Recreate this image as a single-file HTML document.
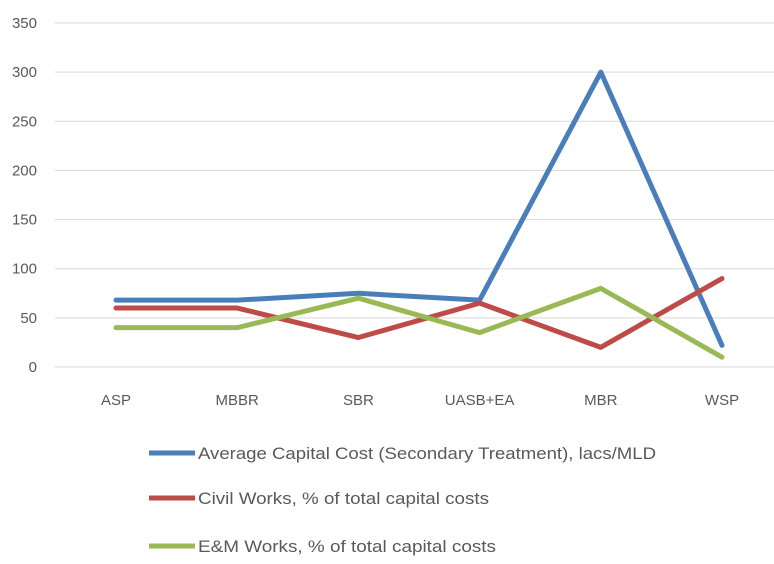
<!DOCTYPE html>
<html><head><meta charset="utf-8"><style>
body{margin:0;background:#fff;}
svg{display:block;font-family:"Liberation Sans",sans-serif;}
</style></head><body>
<svg id="chart" width="774" height="564" viewBox="0 0 774 564" xmlns="http://www.w3.org/2000/svg">
<g id="grid"></g>
<g id="yticks"></g>
<g id="xticks"></g>
<g id="series"></g>
<g id="legend"></g>
</svg>
<script>
const categories = ["ASP","MBBR","SBR","UASB+EA","MBR","WSP"];
const avgCost = [68,68,75,68,300,22];
const civilWorks = [60,60,30,65,20,90];
const emWorks = [40,40,70,35,80,10];
const yTicks = [0,50,100,150,200,250,300,350];
const seriesNames = ["Average Capital Cost (Secondary Treatment), lacs/MLD","Civil Works, % of total capital costs","E&M Works, % of total capital costs"];
const seriesColors = ["#4a7ebb","#be4b48","#98b954"];

const NS="http://www.w3.org/2000/svg";
function y(v){return 367 - v*(344/350);}
function x(i){return 116 + i*121.2;}
function mk(tag,attrs,parent){const e=document.createElementNS(NS,tag);for(const k in attrs)e.setAttribute(k,attrs[k]);parent.appendChild(e);return e;}

const grid=document.getElementById('grid'), yt=document.getElementById('yticks'), xt=document.getElementById('xticks');
yTicks.forEach(v=>{
  const l=mk('line',{x1:55,x2:774,y1:y(v),y2:y(v),stroke:'#d9d9d9','stroke-width':1},grid);
  
  
  const t=mk('text',{x:37,y:y(v)+5,'text-anchor':'end','font-size':15,fill:'#595959'},yt);
  t.textContent=v;
  
  
});
categories.forEach((c,i)=>{
  const t=mk('text',{x:x(i),y:405,'text-anchor':'middle','font-size':15,fill:'#595959'},xt);
  t.textContent=c;
  
  
});
const data=[avgCost,civilWorks,emWorks];
const sg=document.getElementById('series');
data.forEach((d,s)=>{
  const p=mk('polyline',{points:d.map((v,i)=>x(i)+','+y(v)).join(' '),fill:'none',stroke:seriesColors[s],'stroke-width':5,'stroke-linejoin':'round','stroke-linecap':'round'},sg);
  
  
});
const lg=document.getElementById('legend');
const ly=[453,498,546], lw=[458,291,298];
seriesNames.forEach((n,s)=>{
  const l=mk('line',{x1:149,x2:195,y1:ly[s],y2:ly[s],stroke:seriesColors[s],'stroke-width':5},lg);
  
  
  const t=mk('text',{x:198,y:ly[s]+6,'font-size':17,fill:'#595959',textLength:lw[s],lengthAdjust:'spacingAndGlyphs'},lg);
  t.textContent=n;
  
  
});
</script>
</body></html>
